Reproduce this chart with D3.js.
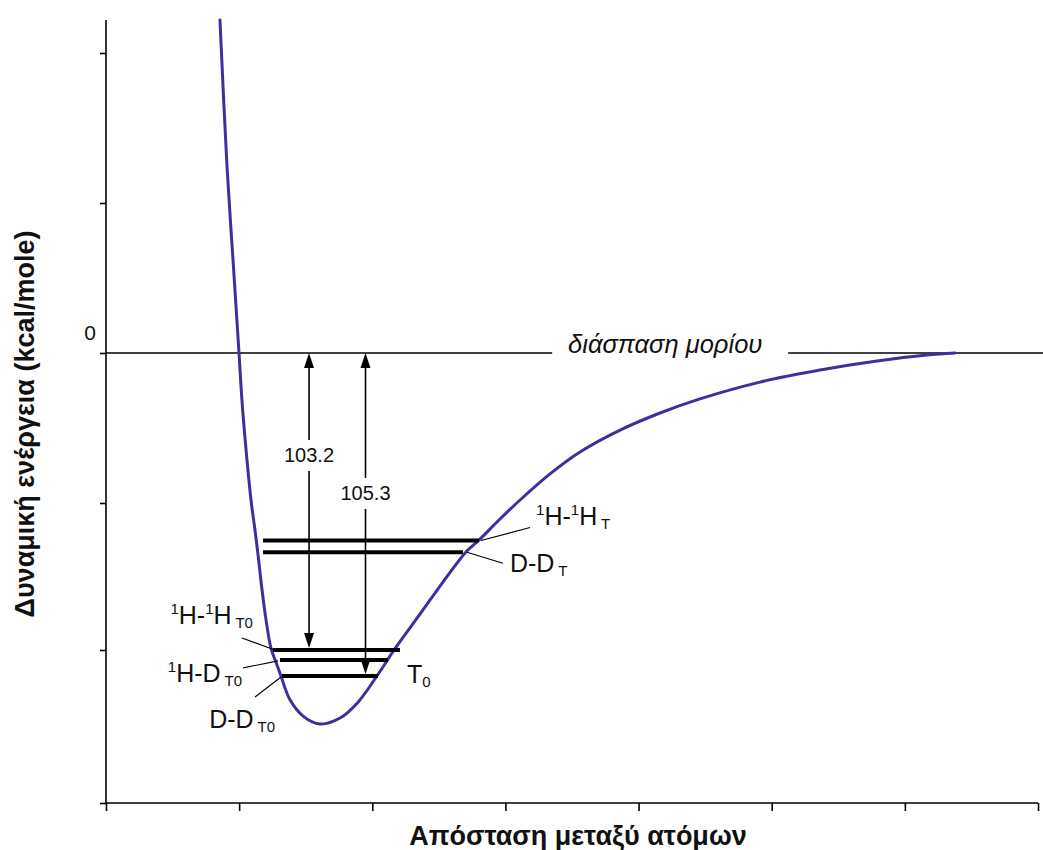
<!DOCTYPE html>
<html>
<head>
<meta charset="utf-8">
<script src="https://cdn.jsdelivr.net/npm/d3@7"></script>
<style>
  html, body { margin: 0; padding: 0; background: #fff; }
  svg { display: block; font-family: "Liberation Sans", Arial, sans-serif; }
</style>
</head>
<body>
<svg id="chart" width="1043" height="850"></svg>
<script>
// Potential energy curve of the hydrogen molecule (schematic)
// distance between the atoms (axis units) and potential energy (kcal/mole)
const curveDistance = [0.856, 0.909, 0.954, 0.999, 1.021, 1.052, 1.089, 1.119, 1.142, 1.172,
  1.202, 1.239, 1.277, 1.314, 1.382, 1.480, 1.607, 1.758, 1.893, 2.035, 2.103, 2.163,
  2.298, 2.434, 2.569, 2.704, 2.802, 2.944, 3.110, 3.335, 3.560, 3.861, 4.161, 4.461,
  4.912, 5.363, 5.791, 6.166, 6.377];
const curveEnergy = [111.0, 62.0, 31.0, 0.0, -15.7, -32.3, -49.0, -59.8, -68.8, -81.5,
  -92.3, -102.5, -104.2, -105.3, -113.7, -119.4, -122.2, -120.1, -114.5, -105.3, -104.2, -103.2,
  -94.2, -85.1, -76.1, -67.7, -63.4, -56.5, -49.0, -40.3, -33.0, -25.7, -20.0, -15.3,
  -9.7, -5.7, -2.7, -0.7, 0.0];

// vibrational levels
const levelIds = ["HH_T", "DD_T", "HH_T0", "HD_T0", "DD_T0"];
const levelEnergy = [-63.6, -67.8, -103.2, -104.0, -105.3];
const levelFrom = [1.179, 1.179, 1.254, 1.307, 1.322];
const levelTo = [2.802, 2.681, 2.208, 2.118, 2.043];

// dissociation energies (kcal/mole) measured from the T0 levels
const dissociationEnergy = [103.2, 105.3];
const dissociationDistance = [1.525, 1.949];

// axis ticks (unlabelled apart from zero)
const xTicks = [0, 1, 2, 3, 4, 5, 6, 7];
const yTicks = [100, 50, 0, -50, -103.2, -150];

const svg = d3.select("#chart");
const W = 1043, H = 850;
svg.append("rect").attr("width", W).attr("height", H).attr("fill", "#fff");

const x = d3.scaleLinear().domain([0, 7]).range([106, 1038]);
// schematic energy axis: the zero-point region is stretched so that
// the close-lying T0 levels remain readable
const y = d3.scaleLinear()
  .domain([111, 0, -50, -103.2, -105.3, -150])
  .range([20, 353, 503, 650, 676, 803]);

// axes
const yAxis = svg.append("g")
  .attr("transform", `translate(${x(0)},0)`)
  .call(d3.axisLeft(y).tickValues(yTicks).tickSize(6).tickFormat(() => ""));
const xAxis = svg.append("g")
  .attr("transform", `translate(0,${y(-150)})`)
  .call(d3.axisBottom(x).tickValues(xTicks).tickSize(8).tickFormat(() => ""));
[yAxis, xAxis].forEach(g => {
  g.select(".domain").attr("stroke", "#000").attr("stroke-width", 1.6);
  g.selectAll(".tick line").attr("stroke", "#000").attr("stroke-width", 1.6);
});
yAxis.select(".domain").attr("d", `M0,${y(111)}V${y(-150)}`);
xAxis.select(".domain").attr("d", `M${x(0)},0H${x(7)}`);

// zero label
svg.append("text").attr("x", x(0) - 10).attr("y", y(0) - 13)
  .attr("text-anchor", "end").attr("font-size", 21).attr("fill", "#111").text("0");

// dissociation line at zero energy
svg.append("line")
  .attr("x1", x(0)).attr("x2", W).attr("y1", y(0)).attr("y2", y(0))
  .attr("stroke", "#000").attr("stroke-width", 1.6);
const dissText = svg.append("g").attr("transform", `translate(${x(4.2)},${y(0)})`);
dissText.append("rect").attr("x", -113).attr("y", -10).attr("width", 236).attr("height", 20).attr("fill", "#fff");
dissText.append("text").attr("x", 0).attr("y", 0).attr("text-anchor", "middle")
  .attr("font-size", 25.5).attr("font-style", "italic").attr("fill", "#111")
  .text("διάσπαση μορίου");

// potential energy curve
const curveData = curveDistance.map((d, i) => [d, curveEnergy[i]]);
svg.append("path")
  .datum(curveData)
  .attr("d", d3.line().x(d => x(d[0])).y(d => y(d[1])).curve(d3.curveCatmullRom.alpha(0.5)))
  .attr("fill", "none").attr("stroke", "#3e2f9f").attr("stroke-width", 3)
  .attr("stroke-linejoin", "round").attr("stroke-linecap", "round");

// energy levels
const levels = levelIds.map((id, i) => ({ id, e: levelEnergy[i], x1: levelFrom[i], x2: levelTo[i] }));
svg.append("g").selectAll("line").data(levels).join("line")
  .attr("x1", d => x(d.x1)).attr("x2", d => x(d.x2))
  .attr("y1", d => y(d.e)).attr("y2", d => y(d.e))
  .attr("stroke", "#000").attr("stroke-width", 4);

// dissociation arrows
const arrowLabelDrop = [102, 140];
const arrows = svg.append("g");
dissociationEnergy.forEach((v, i) => {
  const ax = x(dissociationDistance[i]);
  const y0 = y(0), y1 = y(-v);
  const g = arrows.append("g");
  g.append("line").attr("x1", ax).attr("x2", ax).attr("y1", y0 + 12).attr("y2", y1 - 12)
    .attr("stroke", "#000").attr("stroke-width", 1.6);
  g.append("path").attr("d", `M${ax},${y0}L${ax - 5},${y0 + 15}L${ax + 5},${y0 + 15}Z`).attr("fill", "#000");
  g.append("path").attr("d", `M${ax},${y1 - 2}L${ax - 5},${y1 - 17}L${ax + 5},${y1 - 17}Z`).attr("fill", "#000");
  const ly = y0 + arrowLabelDrop[i];
  g.append("rect").attr("x", ax - 28).attr("y", ly - 15).attr("width", 56).attr("height", 31).attr("fill", "#fff");
  g.append("text").attr("x", ax).attr("y", ly + 7).attr("text-anchor", "middle")
    .attr("font-size", 20).attr("fill", "#111").text(v.toFixed(1));
});

// level labels with leader lines; parts: [kind, text]
const labelSpecs = {
  HH_T:  { end: "x2", lead: [2, 0, 51, -13], text: [57, -16], anchor: "start",
           parts: [["sup", "1"], ["n", "H-"], ["sup", "1"], ["n", "H"], ["sub", " T"]] },
  DD_T:  { end: "x2", lead: [4, 0, 40, 11], text: [47, 20], anchor: "start",
           parts: [["n", "D-D"], ["sub", " T"]] },
  HH_T0: { end: "x1", lead: [2, 0, -31, -12], text: [-20, -26], anchor: "end",
           parts: [["sup", "1"], ["n", "H-"], ["sup", "1"], ["n", "H"], ["sub", " T0"]] },
  HD_T0: { end: "x1", lead: [-2, 1, -37, 8], text: [-38, 22], anchor: "end",
           parts: [["sup", "1"], ["n", "H-D"], ["sub", " T0"]] },
  DD_T0: { end: "x1", lead: [-1, 1, -27, 21], text: [-7, 52], anchor: "end",
           parts: [["n", "D-D"], ["sub", " T0"]] }
};

function writeParts(textSel, parts) {
  let offset = 0;
  parts.forEach(([kind, str]) => {
    const target = kind === "sup" ? -10 : kind === "sub" ? 4 : 0;
    textSel.append("tspan")
      .attr("dy", target - offset)
      .attr("font-size", kind === "n" ? 25 : 15)
      .text(str);
    offset = target;
  });
}

const labelLayer = svg.append("g");
levels.forEach(l => {
  const s = labelSpecs[l.id];
  const px = x(l[s.end]), py = y(l.e);
  labelLayer.append("line")
    .attr("x1", px + s.lead[0]).attr("y1", py + s.lead[1])
    .attr("x2", px + s.lead[2]).attr("y2", py + s.lead[3])
    .attr("stroke", "#000").attr("stroke-width", 1.1);
  const t = labelLayer.append("text")
    .attr("x", px + s.text[0]).attr("y", py + s.text[1])
    .attr("text-anchor", s.anchor).attr("fill", "#111");
  writeParts(t, s.parts);
});

// T0 marker beside the zero-point levels
const hd = levels.find(l => l.id === "HD_T0");
const t0 = labelLayer.append("text")
  .attr("x", x(hd.x2) + 19).attr("y", y(hd.e) + 23).attr("fill", "#111");
writeParts(t0, [["n", "T"], ["sub", "0"]]);

// axis titles
svg.append("text")
  .attr("transform", `translate(34,${424}) rotate(-90)`)
  .attr("text-anchor", "middle").attr("font-size", 27).attr("font-weight", "bold").attr("fill", "#111")
  .text("Δυναμική ενέργεια (kcal/mole)");
svg.append("text")
  .attr("x", 578).attr("y", 845)
  .attr("text-anchor", "middle").attr("font-size", 27).attr("font-weight", "bold").attr("fill", "#111")
  .text("Απόσταση μεταξύ ατόμων");
</script>
</body>
</html>
